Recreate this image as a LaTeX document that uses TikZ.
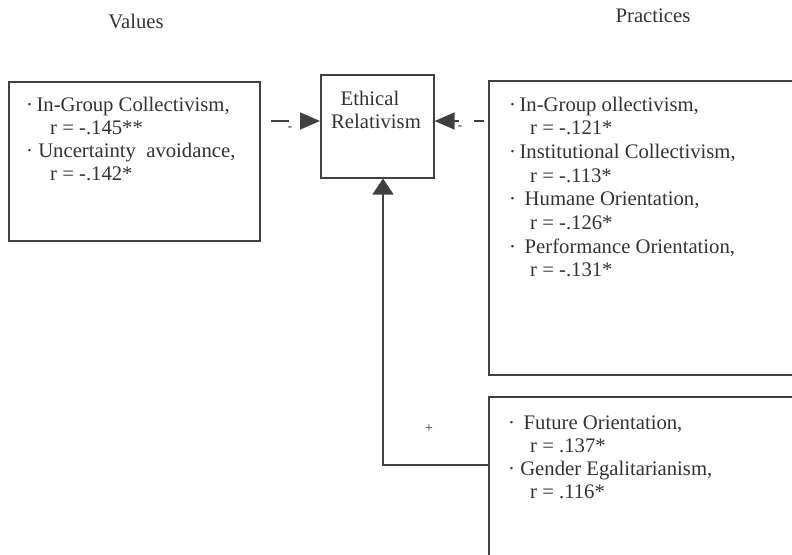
\documentclass[tikz,border=0pt]{standalone}
\usepackage{fontspec}
\setmainfont{Liberation Serif}
\usetikzlibrary{arrows.meta}

\definecolor{ink}{HTML}{333333}
\definecolor{edge}{HTML}{404040}

\tikzset{
  box/.style={draw=edge, line width=1.6pt, anchor=north west, inner sep=0pt},
  txt/.style={anchor=base west, inner sep=0pt, text=ink, font=\fontsize{20.7}{24}\selectfont},
  ctxt/.style={anchor=base, inner sep=0pt, text=ink, font=\fontsize{20.7}{24}\selectfont},
  sign/.style={inner sep=0pt, text=ink, font=\bfseries\fontsize{13}{14}\selectfont},
  conn/.style={draw=edge, line width=1.6pt},
  headL/.style={-{Triangle[length=20pt,width=17pt]}},
  headU/.style={-{Triangle[length=16pt,width=21pt]}},
}

\begin{document}
\begin{tikzpicture}[x=1pt,y=-1pt]
  \useasboundingbox (0,0) rectangle (792,554);
  \clip (0,0) rectangle (792,554);

  % column headings
  \node[ctxt] (hvalues) at (136,28) {Values};
  \node[ctxt] (hpract)  at (653,22) {Practices};

  % boxes
  \node[box, minimum width=251pt, minimum height=159pt] (vbox) at (8,81) {};
  \node[box, minimum width=113pt, minimum height=103pt] (er)   at (320,74) {};
  \node[box, minimum width=320pt, minimum height=294pt] (pbox) at (488,80) {};
  \node[box, minimum width=320pt, minimum height=180pt] (fbox) at (488,396) {};

  % central construct
  \node[ctxt] (er1) at (370,105) {Ethical};
  \node[ctxt] (er2) at (376,128.5) {Relativism};

  % values
  \node[txt] (v1) at (26,111.5) {·\,In-Group Collectivism,};
  \node[txt] (v2) at (50,134.5) {r = -.145**};
  \node[txt] (v3) at (26,157.5) {·\ Uncertainty\ \ avoidance,};
  \node[txt] (v4) at (50,180.5) {r = -.142*};

  % practices, negative
  \node[txt] (p1) at (509,111)   {·\,In-Group ollectivism,};
  \node[txt] (p2) at (530,134.7) {r = -.121*};
  \node[txt] (p3) at (509,158.4) {·\,Institutional Collectivism,};
  \node[txt] (p4) at (530,182.1) {r = -.113*};
  \node[txt] (p5) at (509,205.8) {·\ \,Humane Orientation,};
  \node[txt] (p6) at (530,229.5) {r = -.126*};
  \node[txt] (p7) at (509,253.2) {·\ \,Performance Orientation,};
  \node[txt] (p8) at (530,276.9) {r = -.131*};

  % practices, positive
  \node[txt] (f1) at (508,429)   {·\ \,Future Orientation,};
  \node[txt] (f2) at (530,452.3) {r = .137*};
  \node[txt] (f3) at (508,475.6) {·\ Gender Egalitarianism,};
  \node[txt] (f4) at (530,498.9) {r = .116*};

  % connectors
  \coordinate (ly) at (0,121);
  \draw[conn, headL, dash pattern=on 0pt off 10pt on 18pt off 60pt]
    (vbox.east |- ly) -- (er.west |- ly);
  \node[sign] (sl) at (290,129) {-};

  \draw[conn, headL, dash pattern=on 0pt off 4pt on 10pt off 15pt on 30pt]
    (pbox.west |- ly) -- (er.east |- ly);
  \node[sign] (sr) at (460,128) {-};

  \coordinate (turn) at (383,465);
  \draw[conn, headU] (fbox.west |- turn) -- (turn) -- (turn |- er.south);
  \node[sign, font=\fontsize{14}{15}\selectfont] (sp) at (429,429) {+};
\end{tikzpicture}
\end{document}
